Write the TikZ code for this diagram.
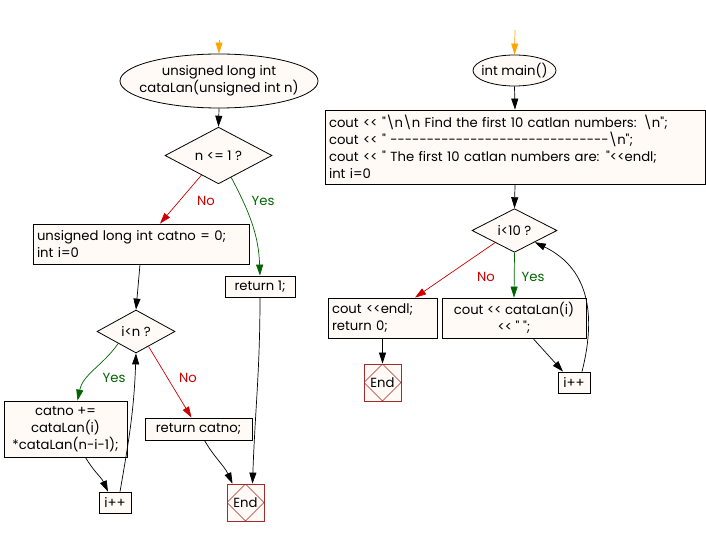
\documentclass[tikz,border=0pt]{standalone}
\usepackage{fontspec}
\setmainfont{Poppins}[Ligatures=TeXOff]
\usetikzlibrary{shapes.geometric,arrows.meta}
\definecolor{fillc}{RGB}{255,250,245}
\definecolor{redc}{RGB}{204,0,0}
\definecolor{greenc}{RGB}{0,100,0}
\definecolor{orangec}{RGB}{255,165,0}
\definecolor{endc}{RGB}{165,42,42}
\tikzset{
  x=1pt,y=-1pt,
  every node/.style={font=\fontsize{13.2}{17}\selectfont,inner sep=3pt},
  box/.style={draw,fill=fillc,rectangle,line width=0.8pt},
  oval/.style={draw,fill=fillc,ellipse,line width=0.8pt,inner sep=0pt,align=center},
  cond/.style={draw,fill=fillc,diamond,line width=0.8pt,inner sep=0pt},
  endbox/.style={draw=endc,fill=fillc,rectangle,line width=0.8pt,minimum width=37,minimum height=37,inner sep=0pt,
    path picture={\draw[endc,line width=0.6pt] (path picture bounding box.north) -- (path picture bounding box.east) -- (path picture bounding box.south) -- (path picture bounding box.west) -- cycle;}},
  arr/.style={draw,line width=0.7pt,-{Triangle[length=11pt,width=7pt]}},
  noarr/.style={arr,redc},
  yesarr/.style={arr,greenc},
  startarr/.style={arr,orangec},
  nolab/.style={text=redc},
  yeslab/.style={text=greenc},
}
\begin{document}
\begin{tikzpicture}
\useasboundingbox (0,0) rectangle (706,537);
% left
\coordinate (s1) at (219,40);
\node[oval,minimum width=198,minimum height=54,inner xsep=-11pt,inner ysep=0pt] (e1) at (219,81) {unsigned long int\\cataLan(unsigned int n)};
\node[cond,minimum width=107,minimum height=45] (d1) at (218.5,155.5) {n <= 1 ?};
\node[box,minimum width=216,minimum height=40,text width=208,align=left,inner sep=4pt] (b1) at (141,244) {unsigned long int catno = 0;\\int i=0};
\node[box,minimum width=70,minimum height=21,inner sep=0pt] (r1) at (260,286.5) {return 1;};
\node[cond,minimum width=78,minimum height=43] (d2) at (136,331.5) {i<n ?};
\node[box,minimum width=123,minimum height=56,align=center,inner sep=0pt] (b2) at (65.5,429) {catno +=\\cataLan(i)\\*cataLan(n-i-1);};
\node[box,minimum width=107,minimum height=22,inner sep=0pt] (b3) at (198.5,429) {return catno;};
\node[box,minimum width=32,minimum height=21,inner sep=0pt] (i1) at (115,502.5) {i++};
\node[endbox] (end1) at (245.5,502.5) {End};
\node[nolab] (l1) at (206,201) {No};
\node[yeslab] (l2) at (263,201) {Yes};
\node[yeslab] (l3) at (114,378) {Yes};
\node[nolab] (l4) at (188,378) {No};
% right
\coordinate (s2) at (515,30);
\node[oval,minimum width=83,minimum height=31,inner xsep=-4pt,inner ysep=0pt] (e2) at (514.5,70.5) {int main()};
\node[box,minimum width=380,minimum height=74,text width=372,align=left,inner sep=4pt] (b4) at (515,147) {cout << "\textbackslash n\textbackslash n Find the first 10 catlan numbers: \textbackslash n";\\cout << " ------------------------------\textbackslash n";\\cout << " The first 10 catlan numbers are: "<<endl;\\int i=0};
\node[cond,minimum width=85,minimum height=43] (d3) at (514.5,230.5) {i<10 ?};
\node[box,minimum width=109,minimum height=40,text width=101,align=left,inner sep=4pt] (b5) at (382.5,318) {cout <<endl;\\return 0;};
\node[box,minimum width=144,minimum height=40,align=center,inner sep=0pt] (b6) at (514,318) {cout << cataLan(i)\\<< " ";};
\node[box,minimum width=32,minimum height=21,inner sep=0pt] (i2) at (574,382.5) {i++};
\node[endbox] (end2) at (382.5,382.5) {End};
\node[nolab] (l5) at (486,277) {No};
\node[yeslab] (l6) at (533,277) {Yes};
% connectors left
\draw[startarr] (s1) -- (e1.north);
\draw[arr] (e1.south) -- (d1.north);
\draw[noarr] (d1.-131) -- ([xshift=19]b1.north);
\draw[yesarr] (d1.-60) to[out=-62,in=92] (r1.north);
\draw[arr] ([xshift=-1]b1.south) -- (d2.north);
\draw[yesarr] (d2.-146) to[out=-125,in=78] ([xshift=12]b2.north);
\draw[noarr] (d2.-50) -- ([xshift=-7]b3.north);
\draw[arr] ([xshift=20]b2.south) to[out=-60,in=115] ([xshift=-7]i1.north);
\draw[arr] ([xshift=5]i1.north) to[out=80,in=-92] (d2.south);
\draw[arr] ([xshift=6]b3.south) to[out=-60,in=115] ([xshift=-13]end1.north);
\draw[arr] (r1.south) to[out=-90,in=88] ([xshift=7]end1.north);
% connectors right
\draw[startarr] (s2) -- (e2.north);
\draw[arr] (e2.south) -- (b4.north);
\draw[arr] (b4.south) -- (d3.north);
\draw[noarr] (d3.-148) -- ([xshift=32.5]b5.north);
\draw[yesarr] (d3.south) -- (b6.north);
\draw[arr] ([xshift=19]b6.south) -- ([xshift=-11]i2.north);
\draw[arr] ([xshift=8]i2.north) .. controls (595,320) and (592,270) .. (d3.-30);
\draw[arr] (b5.south) -- (end2.north);
\end{tikzpicture}
\end{document}
